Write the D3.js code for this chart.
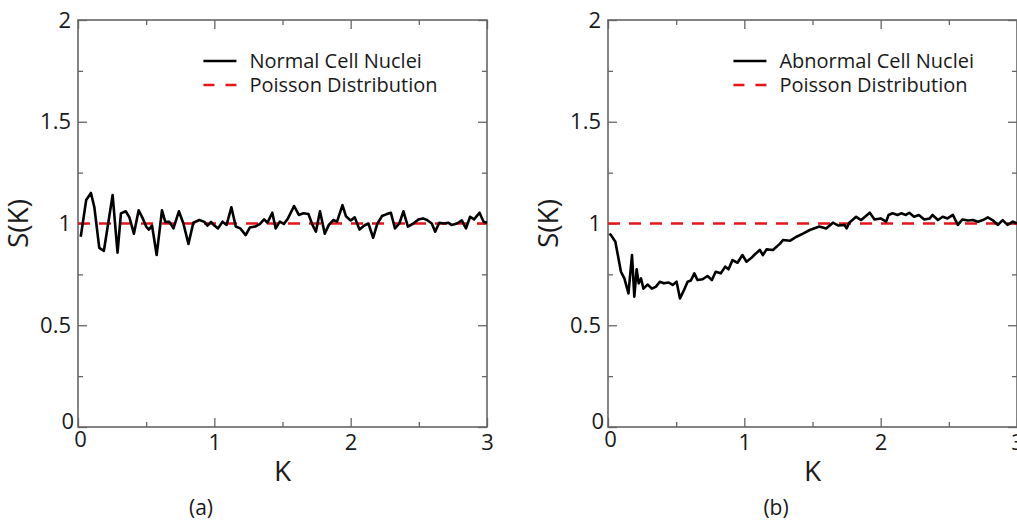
<!DOCTYPE html>
<html>
<head>
<meta charset="utf-8">
<script src="https://cdn.jsdelivr.net/npm/d3@7"></script>
<style>
  body { margin: 0; background: #fff; }
  text { font-family: "Open Sans", "Noto Sans", sans-serif; fill: #1a1a1a; }
</style>
</head>
<body>
<div id="chart"></div>
<script>
// normal cell nuclei
var normalK = [0.02,0.06,0.095,0.12,0.156,0.19,0.254,0.29,0.315,0.35,0.377,0.41,0.445,0.475,0.5,0.52,0.543,0.577,0.616,0.64,0.67,0.7,0.74,0.773,0.81,0.846,0.89,0.927,0.95,0.976,
  1.0,1.027,1.06,1.09,1.125,1.157,1.19,1.23,1.26,1.3,1.335,1.365,1.39,1.425,1.45,1.48,1.51,1.54,1.585,1.62,1.653,1.69,1.72,1.745,1.775,1.81,1.84,1.873,1.9,1.94,1.965,
  2.0,2.03,2.065,2.1,2.13,2.165,2.195,2.23,2.26,2.295,2.325,2.357,2.387,2.42,2.46,2.497,2.53,2.56,2.595,2.62,2.65,2.685,2.715,2.74,2.78,2.815,2.846,2.876,2.905,2.945,2.975,3.0];
var normalS = [0.935,1.115,1.15,1.08,0.88,0.866,1.14,0.857,1.05,1.06,1.03,0.95,1.065,1.025,0.985,0.97,0.99,0.845,1.065,1.008,1.008,0.976,1.06,1.0,0.9,1.004,1.017,1.008,0.99,1.008,
  0.99,0.976,1.009,0.993,1.08,0.985,0.976,0.943,0.98,0.985,0.998,1.02,1.004,1.053,0.976,1.009,0.998,1.025,1.086,1.042,1.05,1.047,0.993,0.96,1.06,0.95,0.993,1.017,1.009,1.09,1.036,
  1.015,1.03,0.97,0.99,1.0,0.93,0.998,1.037,1.045,1.053,0.976,1.0,1.06,0.985,1.0,1.02,1.025,1.017,1.0,0.96,1.004,1.0,1.004,0.993,1.0,1.015,0.976,1.033,1.02,1.053,1.009,1.004];

// abnormal cell nuclei
var abnormalK = [0.01,0.022,0.054,0.07,0.095,0.12,0.15,0.176,0.193,0.21,0.225,0.242,0.26,0.29,0.322,0.352,0.38,0.41,0.445,0.474,0.503,0.528,0.552,0.584,0.608,0.633,0.657,0.694,0.73,0.762,0.79,0.827,0.86,0.884,0.913,0.95,0.986,
  1.016,1.05,1.08,1.114,1.136,1.163,1.21,1.26,1.285,1.334,1.383,1.43,1.48,1.55,1.6,1.65,1.69,1.735,1.75,1.77,1.82,1.857,1.92,1.955,
  2.0,2.04,2.058,2.087,2.124,2.15,2.185,2.21,2.245,2.28,2.32,2.36,2.38,2.42,2.455,2.49,2.53,2.566,2.6,2.64,2.677,2.714,2.75,2.786,2.82,2.86,2.895,2.93,2.97,3.0];
var abnormalS = [0.95,0.943,0.91,0.853,0.763,0.73,0.657,0.845,0.64,0.775,0.706,0.73,0.68,0.70,0.68,0.69,0.714,0.706,0.71,0.698,0.714,0.632,0.665,0.714,0.72,0.755,0.722,0.726,0.742,0.722,0.763,0.755,0.788,0.775,0.82,0.807,0.845,
  0.812,0.83,0.85,0.87,0.845,0.873,0.87,0.9,0.919,0.915,0.935,0.95,0.968,0.985,0.975,1.004,0.99,0.993,0.976,1.004,1.033,1.017,1.053,1.02,
  1.025,1.009,1.042,1.05,1.042,1.05,1.042,1.053,1.033,1.042,1.02,1.025,1.042,1.017,1.033,1.025,1.042,0.993,1.02,1.015,1.017,1.009,1.017,1.03,1.017,0.993,1.017,0.993,1.009,1.0];

var poissonS = 1;
var xMajor = [0, 1, 2, 3], xMinor = [0.5, 1.5, 2.5];
var yMajor = [0, 0.5, 1, 1.5, 2], yMinor = [0.25, 0.75, 1.25, 1.75];

var width = 1017, height = 522;
var svg = d3.select("#chart").append("svg")
  .attr("width", width)
  .attr("height", height);

var pw = 409, ph = 407, marginTop = 20;
var x = d3.scaleLinear().domain([0, 3]).range([0, pw]);
var y = d3.scaleLinear().domain([0, 2]).range([ph, 0]);
var fmt = d3.format("~g");

function drawPanel(left, kArr, sArr, name, caption, capX) {
  var g = svg.append("g").attr("transform", "translate(" + left + "," + marginTop + ")");

  // ticks on all four sides, pointing in
  function ticks(axis, scale, vals, size, tf, labels) {
    var a = axis(scale).tickValues(vals).tickSize(-size).tickPadding(7)
      .tickFormat(labels ? fmt : "");
    var sel = g.append("g").attr("transform", tf).call(a);
    sel.select(".domain").remove();
    sel.selectAll("line").attr("stroke", "#666").attr("stroke-width", 1.3);
    sel.selectAll("text").style("font-size", "22px").attr("fill", "#1a1a1a");
    return sel;
  }
  var xb = ticks(d3.axisBottom, x, xMajor, 9, "translate(0," + ph + ")", true);
  ticks(d3.axisBottom, x, xMinor, 5, "translate(0," + ph + ")", false);
  ticks(d3.axisTop, x, xMajor, 9, "translate(0,0)", false);
  ticks(d3.axisTop, x, xMinor, 5, "translate(0,0)", false);
  var yl = ticks(d3.axisLeft, y, yMajor, 9, "translate(0,0)", true);
  ticks(d3.axisLeft, y, yMinor, 5, "translate(0,0)", false);
  ticks(d3.axisRight, y, yMajor, 9, "translate(" + pw + ",0)", false);
  ticks(d3.axisRight, y, yMinor, 5, "translate(" + pw + ",0)", false);
  // origin labels sit a little apart, as in the source figure
  yl.selectAll(".tick").filter(function (d) { return d === 0; })
    .select("text").attr("dy", "0.05em").attr("x", -4);
  xb.selectAll(".tick").filter(function (d) { return d === 0; })
    .select("text").attr("y", 4).attr("x", 2);

  g.append("rect")
    .attr("width", pw).attr("height", ph)
    .attr("fill", "none").attr("stroke", "#666").attr("stroke-width", 1.6);

  // poisson reference
  g.append("line")
    .attr("x1", x(0)).attr("x2", x(3))
    .attr("y1", y(poissonS)).attr("y2", y(poissonS))
    .attr("stroke", "#e8141b").attr("stroke-width", 2.5)
    .attr("stroke-dasharray", "12,9");

  var line = d3.line()
    .x(function (d, i) { return x(kArr[i]); })
    .y(function (d) { return y(d); });
  g.append("path")
    .datum(sArr)
    .attr("d", line)
    .attr("fill", "none")
    .attr("stroke", "#000")
    .attr("stroke-width", 2.6)
    .attr("stroke-linejoin", "round");

  // legend
  var lx = x(0.92), ly = 41;
  g.append("line").attr("x1", lx).attr("x2", lx + 33).attr("y1", ly).attr("y2", ly)
    .attr("stroke", "#000").attr("stroke-width", 2.6);
  g.append("text").attr("x", lx + 46).attr("y", ly).attr("dy", "0.35em")
    .style("font-size", "20px").text(name);
  g.append("line").attr("x1", lx).attr("x2", lx + 33).attr("y1", ly + 24).attr("y2", ly + 24)
    .attr("stroke", "#e8141b").attr("stroke-width", 2.6).attr("stroke-dasharray", "11,11");
  g.append("text").attr("x", lx + 46).attr("y", ly + 24).attr("dy", "0.35em")
    .style("font-size", "20px").text("Poisson Distribution");

  // axis titles
  g.append("text").attr("x", pw / 2).attr("y", ph + 54)
    .attr("text-anchor", "middle").style("font-size", "28px").text("K");
  g.append("text")
    .attr("transform", "translate(-50," + (ph / 2) + ") rotate(-90)")
    .attr("text-anchor", "middle").style("font-size", "28px").text("S(K)");
  g.append("text").attr("x", capX - left).attr("y", ph + 88)
    .attr("text-anchor", "middle").style("font-size", "21px").text(caption);
}

drawPanel(78, normalK, normalS, "Normal Cell Nuclei", "(a)", 201);
drawPanel(608, abnormalK, abnormalS, "Abnormal Cell Nuclei", "(b)", 776);
</script>
</body>
</html>
